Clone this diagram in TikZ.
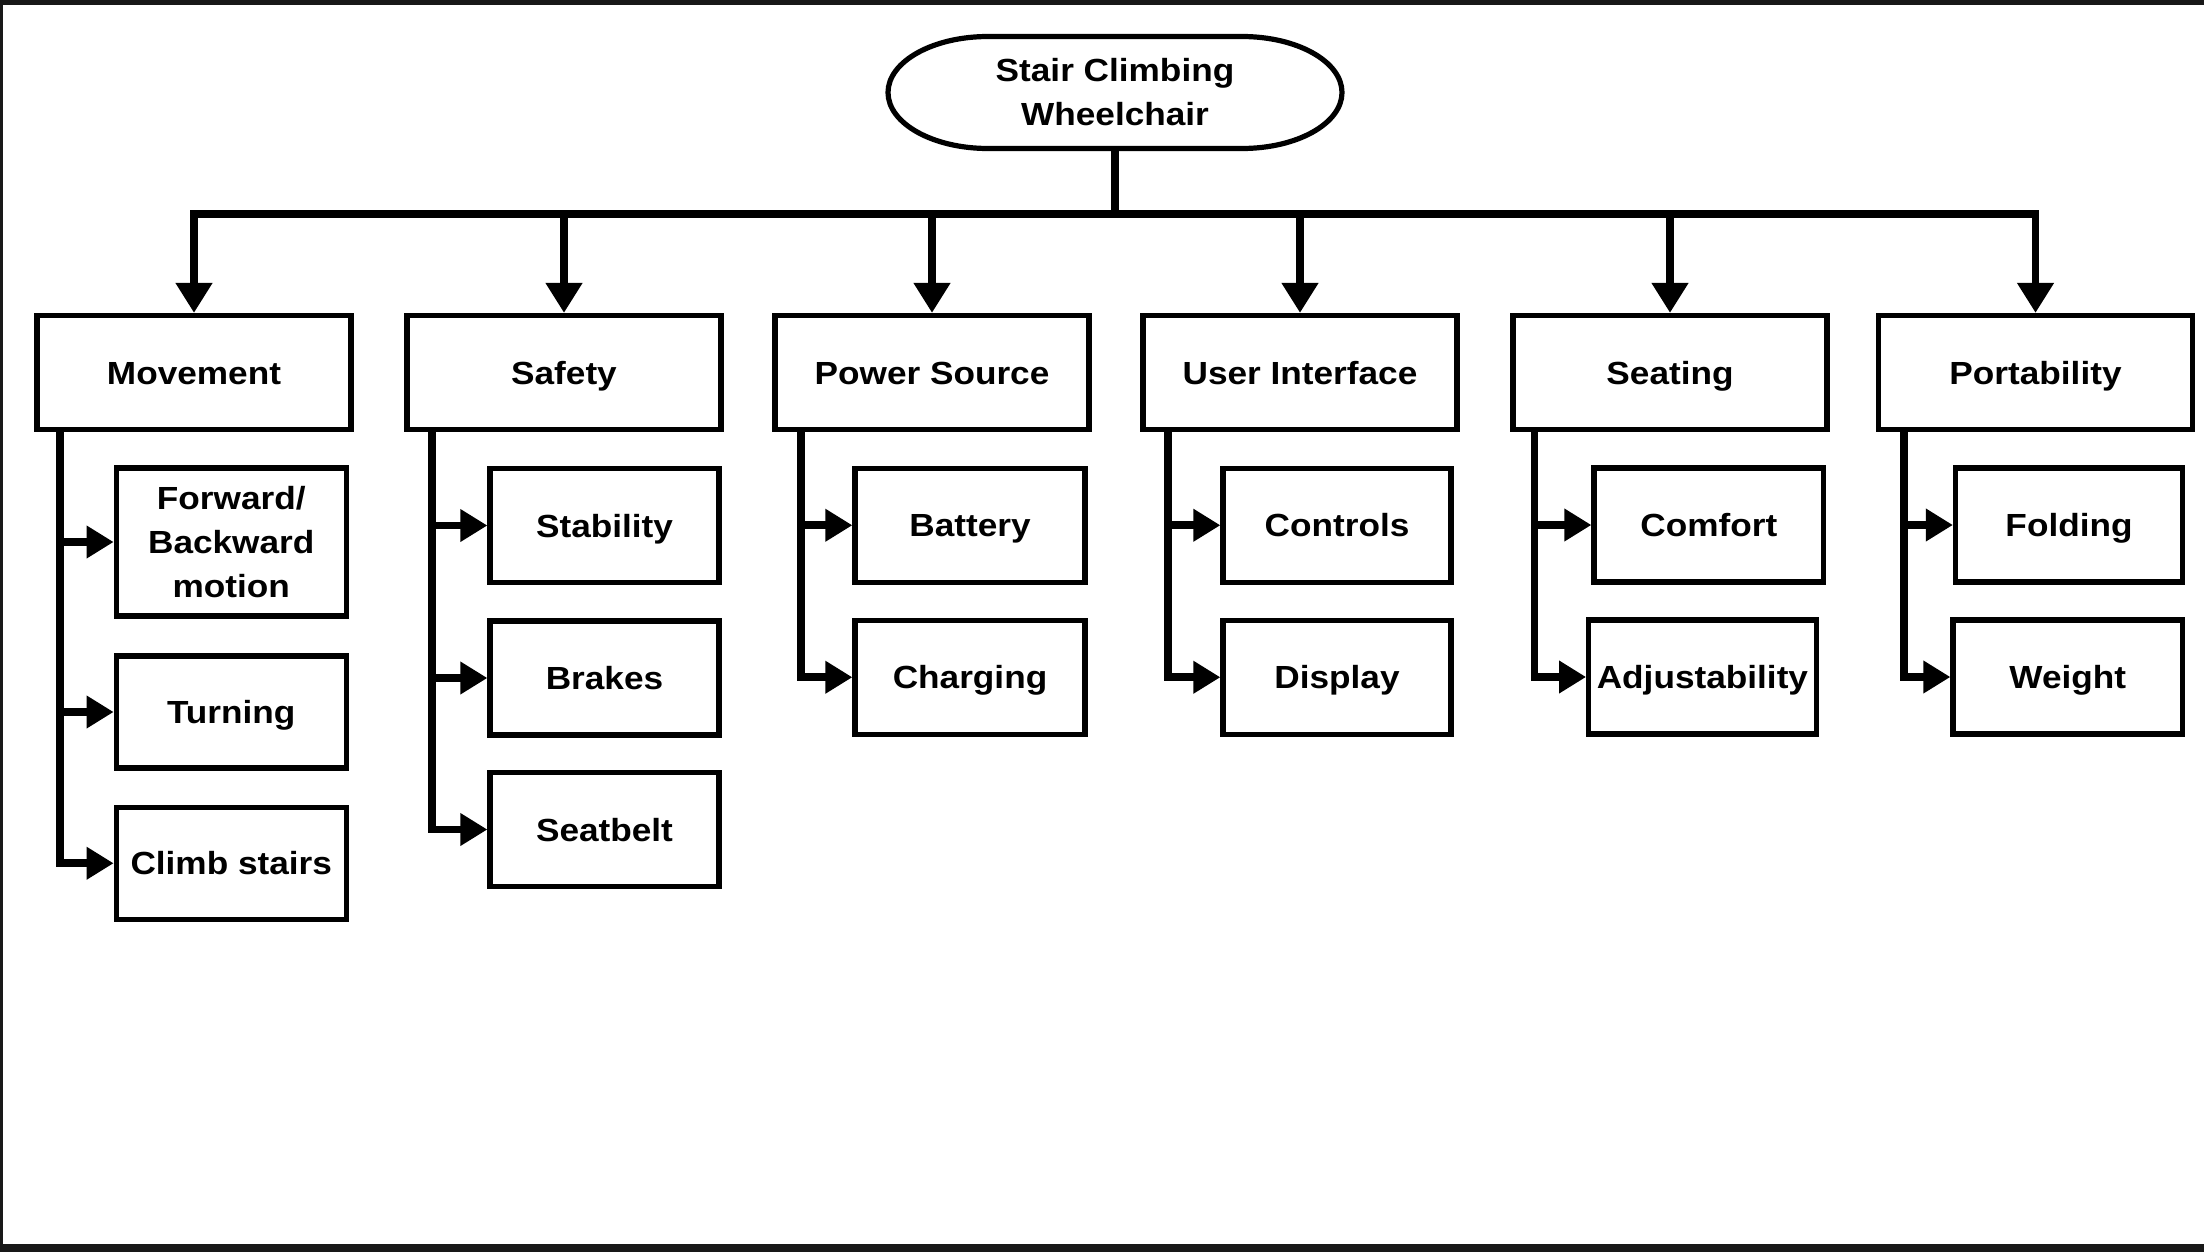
\documentclass[tikz,border=0pt]{standalone}
\usepackage{fontspec}
\newfontfamily\lbl{Liberation Sans}[FakeStretch=1.1]
\usetikzlibrary{arrows.meta}
\definecolor{framecol}{RGB}{24,24,24}
\tikzset{
  lblfont/.style={font=\lbl\bfseries\fontsize{16pt}{22pt}\selectfont},
  boxbase/.style={draw, line width=2.6pt, inner sep=0pt, lblfont},
  catbox/.style={boxbase, minimum width=157pt, minimum height=57pt, text height=11.5pt, text depth=0pt},
  subbox/.style={boxbase, minimum width=115pt, minimum height=57pt, text height=11.5pt, text depth=0pt},
  tallbox/.style={boxbase, align=center, minimum width=115pt, minimum height=74pt},
  rootnode/.style={inner sep=0pt, outer sep=0pt, lblfont, align=center, minimum width=227pt, minimum height=56pt},
  rootline/.style={line width=2.6pt},
  vconn/.style={line width=3.9pt, -{Triangle[length=15pt,width=17.5pt]}},
  hconn/.style={line width=3.9pt, -{Triangle[length=13.5pt,width=15.5pt]}},
}
\begin{document}
\begin{tikzpicture}[x=0.5pt,y=0.5pt]
\useasboundingbox (0,0) rectangle (2204,-1252);
% frame
\fill[framecol] (0,0) rectangle (2204,-5);
\fill[framecol] (0,-1244) rectangle (2204,-1252);
\fill[framecol] (0,0) rectangle (2.5,-1252);

% root
\node[rootnode] (root) at (1115,-92.5) {Stair Climbing\\Wheelchair};
\draw[rootline] (988,-36.5) -- (1242,-36.5)
  arc[start angle=90,end angle=-90,x radius=50pt,y radius=28pt]
  -- (988,-148.5)
  arc[start angle=270,end angle=90,x radius=50pt,y radius=28pt] -- cycle;

% categories
\node[catbox] (mov) at (194,-372.5) {Movement};
\node[catbox] (saf) at (564,-372.5) {Safety};
\node[catbox] (pow) at (932,-372.5) {Power Source};
\node[catbox] (ui)  at (1300,-372.5) {User Interface};
\node[catbox] (sea) at (1670,-372.5) {Seating};
\node[catbox] (por) at (2035.5,-372.5) {Portability};

% children
\node[tallbox] (fwd) at (231.25,-542) {Forward/\\Backward\\motion};
\node[subbox, minimum height=56pt] (turn) at (231.25,-712) {Turning};
\node[subbox, minimum height=56pt] (climb) at (231.25,-863.25) {Climb stairs};

\node[subbox, minimum width=114.5pt] (stab) at (604.5,-525.5) {Stability};
\node[subbox, minimum width=114.5pt] (brake) at (604.5,-678) {Brakes};
\node[subbox, minimum width=114.5pt] (belt) at (604.5,-829.5) {Seatbelt};

\node[subbox] (batt) at (970,-525.25) {Battery};
\node[subbox] (charg) at (970,-677.25) {Charging};

\node[subbox, minimum width=114pt] (ctrl) at (1337,-525.25) {Controls};
\node[subbox, minimum width=114pt] (disp) at (1337,-677.25) {Display};

\node[subbox, minimum width=114.8pt] (comf) at (1708.8,-525) {Comfort};
\node[subbox, minimum width=113.7pt] (adj) at (1702.4,-677) {Adjustability};

\node[subbox, minimum width=113.5pt] (fold) at (2069,-525) {Folding};
\node[subbox, minimum width=114.8pt] (wgt) at (2067.8,-677) {Weight};

% bus from root
\coordinate (bus) at (0,-214);
\foreach \c in {mov,saf,pow,ui,sea,por}
  \draw[vconn] (root.south) -- (root.south |- bus) -| (\c.north);

% trunks
\coordinate (t1) at (60,0);
\coordinate (t2) at (432,0);
\coordinate (t3) at (801,0);
\coordinate (t4) at (1168,0);
\coordinate (t5) at (1534.5,0);
\coordinate (t6) at (1904,0);

\draw[hconn] (t1 |- mov.south) |- (climb.west);
\draw[hconn] (t1 |- fwd.west) -- (fwd.west);
\draw[hconn] (t1 |- turn.west) -- (turn.west);

\draw[hconn] (t2 |- saf.south) |- (belt.west);
\draw[hconn] (t2 |- stab.west) -- (stab.west);
\draw[hconn] (t2 |- brake.west) -- (brake.west);

\draw[hconn] (t3 |- pow.south) |- (charg.west);
\draw[hconn] (t3 |- batt.west) -- (batt.west);

\draw[hconn] (t4 |- ui.south) |- (disp.west);
\draw[hconn] (t4 |- ctrl.west) -- (ctrl.west);

\draw[hconn] (t5 |- sea.south) |- (adj.west);
\draw[hconn] (t5 |- comf.west) -- (comf.west);

\draw[hconn] (t6 |- por.south) |- (wgt.west);
\draw[hconn] (t6 |- fold.west) -- (fold.west);
\end{tikzpicture}
\end{document}
